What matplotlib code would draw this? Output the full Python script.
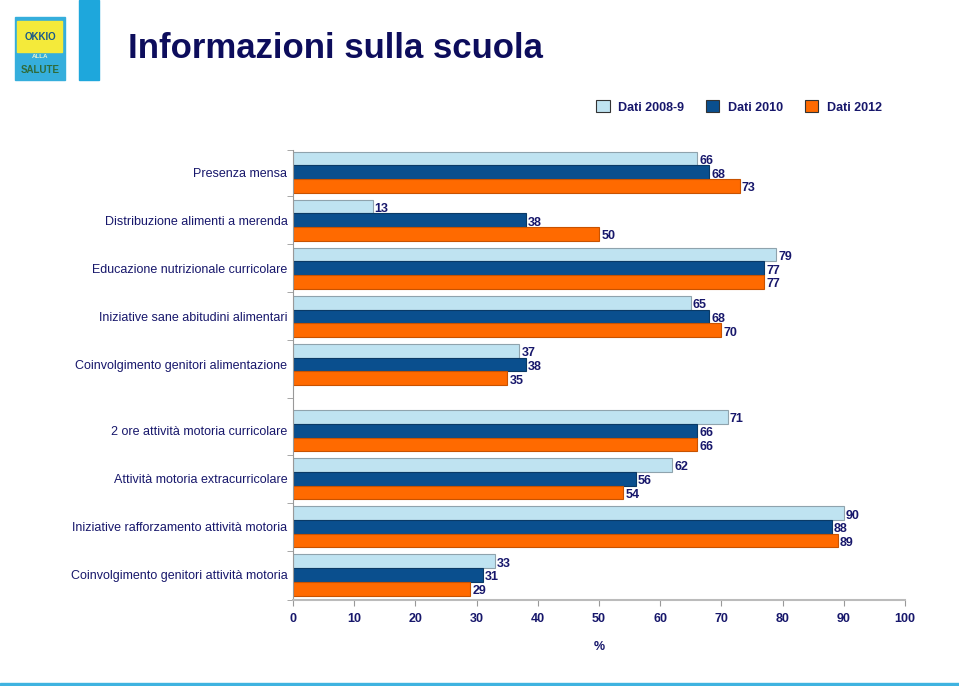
import matplotlib.pyplot as plt
import numpy as np

# data
categories = ['Presenza mensa',
              'Distribuzione alimenti a merenda',
              'Educazione nutrizionale curricolare',
              'Iniziative sane abitudini alimentari',
              'Coinvolgimento genitori alimentazione',
              '2 ore attività motoria curricolare',
              'Attività motoria extracurricolare',
              'Iniziative rafforzamento attività motoria',
              'Coinvolgimento genitori attività motoria']
dati_2008 = [66, 13, 79, 65, 37, 71, 62, 90, 33]
dati_2010 = [68, 38, 77, 68, 38, 66, 56, 88, 31]
dati_2012 = [73, 50, 77, 70, 35, 66, 54, 89, 29]
series_names = ['Dati 2008-9', 'Dati 2010', 'Dati 2012']
x_ticks = [0, 10, 20, 30, 40, 50, 60, 70, 80, 90, 100]

navy = '#17176b'
colors = ['#bfe3f1', '#0a4f8e', '#ff6a00']
edges = ['#8fa3ad', '#0a3a66', '#c85200']

plt.rcParams['font.family'] = ['Liberation Sans', 'DejaVu Sans']

fig = plt.figure(figsize=(9.59, 6.86), dpi=100)

# title + header decorations
fig.text(128 / 959, 1 - 48 / 686, 'Informazioni sulla scuola', fontsize=25,
         fontweight='bold', color='#0d0d5c', va='center', ha='left')
fig.patches.append(plt.Rectangle((79 / 959, 1 - 80 / 686), 20 / 959, 80 / 686,
                                 transform=fig.transFigure, color='#1ea7dc', zorder=0))
# logo (rough)
fig.patches.append(plt.Rectangle((15 / 959, 1 - 80 / 686), 50 / 959, 63 / 686,
                                 transform=fig.transFigure, color='#35aedc', zorder=0))
fig.patches.append(plt.Rectangle((17 / 959, 1 - 52 / 686), 45 / 959, 31 / 686,
                                 transform=fig.transFigure, color='#f4ea3a', zorder=1))
fig.text(40 / 959, 1 - 37 / 686, 'OKKIO', fontsize=7, fontweight='bold', color='#1a5a8a',
         ha='center', va='center')
fig.text(40 / 959, 1 - 57 / 686, 'ALLA', fontsize=4.5, fontweight='bold', color='#e8f4d0',
         ha='center', va='center')
fig.text(40 / 959, 1 - 70 / 686, 'SALUTE', fontsize=7, fontweight='bold', color='#2f6b3a',
         ha='center', va='center')
# bottom line
fig.patches.append(plt.Rectangle((0, 0), 1, 3 / 686, transform=fig.transFigure,
                                 color='#3fb3e0', zorder=0))

ax = fig.add_axes([293 / 959, 1 - 600 / 686, 612 / 959, 450 / 686])

n = len(categories)
gap = 0.375
centers = np.arange(n, dtype=float)
centers[5:] += gap
bar_h = 0.285
offsets = [-bar_h, 0, bar_h]

for vals, off, c, ec, name in zip([dati_2008, dati_2010, dati_2012], offsets,
                                  colors, edges, series_names):
    ax.barh(centers + off, vals, height=bar_h, color=c, edgecolor=ec, linewidth=0.8,
            label=name)
    for y, v in zip(centers + off, vals):
        ax.text(v + 0.35, y + 0.05, str(v), fontsize=9, fontweight='bold', color=navy,
                va='center', ha='left')

ax.set_xlim(0, 100)
ax.set_ylim(centers[-1] + 0.52, -0.46)
ax.set_xticks(x_ticks)
ax.set_xticklabels([str(t) for t in x_ticks], fontsize=9, fontweight='bold', color=navy)
ax.tick_params(axis='x', length=4, color='#999999', pad=5)

ax.set_yticks(centers)
ax.set_yticklabels(categories, fontsize=9, color=navy)
ax.tick_params(axis='y', length=0, pad=4)
bounds = [-0.46] + list((centers[:-1] + centers[1:]) / 2) + [centers[-1] + 0.52]
ax.set_yticks(bounds, minor=True)
ax.tick_params(axis='y', which='minor', length=4, color='#999999')

for s in ['top', 'right']:
    ax.spines[s].set_visible(False)
ax.spines['left'].set_color('#999999')
ax.spines['bottom'].set_color('#bbbbbb')
ax.spines['bottom'].set_linewidth(1.5)

ax.set_xlabel('%', fontsize=9, fontweight='bold', color=navy, labelpad=12)

leg = fig.legend(loc='center', bbox_to_anchor=(739 / 959, 1 - 107 / 686), ncol=3,
                 frameon=False, fontsize=9, handlelength=1.1, handleheight=1.1,
                 columnspacing=1.7, handletextpad=0.7)
for t in leg.get_texts():
    t.set_color(navy)
    t.set_fontweight('bold')
for p in leg.get_patches():
    p.set_edgecolor('#333333')

fig.savefig('out.png', dpi=100)
